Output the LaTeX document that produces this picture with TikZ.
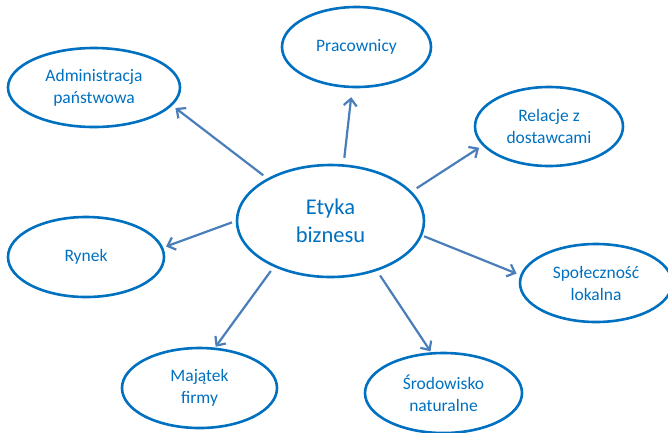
\documentclass[tikz,border=0pt]{standalone}
\usepackage{fontspec}
\setmainfont{Carlito}
\usetikzlibrary{arrows.meta,shapes.geometric}
\definecolor{ellblue}{HTML}{0070C0}
\definecolor{arrblue}{HTML}{4A7EBB}
\begin{document}
\begin{tikzpicture}[x=1pt,y=-1pt,
  oval/.style={ellipse,draw=ellblue,line width=2.6pt,inner sep=0pt,
    text=ellblue,align=center,font=\fontsize{17.5}{22}\selectfont},
  arr/.style={draw=arrblue,line width=2.2pt,
    -{Straight Barb[length=7pt,width=13pt,line width=2.2pt]}}]
\useasboundingbox (0,0) rectangle (668,432);
\node[oval,minimum width=187pt,minimum height=112pt,
  font=\fontsize{22.5}{28}\selectfont] (c) at (330.5,221) {Etyka\\biznesu};
\node[oval,minimum width=172pt,minimum height=79pt] (adm) at (94,87.5) {Administracja\\państwowa};
\node[oval,minimum width=149pt,minimum height=80pt] (pra) at (356.5,47) {Pracownicy};
\node[oval,minimum width=148pt,minimum height=79pt] (rel) at (549,126.5) {Relacje z\\dostawcami};
\node[oval,minimum width=156pt,minimum height=80pt] (ryn) at (86,257) {Rynek};
\node[oval,minimum width=152pt,minimum height=78pt] (spo) at (596,283) {Społeczność\\lokalna};
\node[oval,minimum width=155pt,minimum height=80pt] (maj) at (199.5,388) {Majątek\\firmy};
\node[oval,minimum width=157pt,minimum height=80pt] (sro) at (443.5,393) {Środowisko\\naturalne};
\draw[arr,shorten <=5pt,shorten >=4pt] (c.146.3) -- (adm.-13.5);
\draw[arr,shorten <=6.5pt,shorten >=9pt] (c.77) -- (pra.-96.6);
\draw[arr,shorten <=6pt,shorten >=4pt] (c.20.3) -- (rel.196.3);
\draw[arr,shorten <=4pt,shorten >=3pt] (c.180) -- (ryn.7.1);
\draw[arr,shorten <=2pt,shorten >=4pt] (c.-9.8) -- (spo.174.3);
\draw[arr,shorten <=5.5pt,shorten >=1pt] (c.-47.5) -- (sro.107);
\draw[arr,shorten <=5pt,shorten >=1pt] (c.219.5) -- (maj.69.3);
\end{tikzpicture}
\end{document}
